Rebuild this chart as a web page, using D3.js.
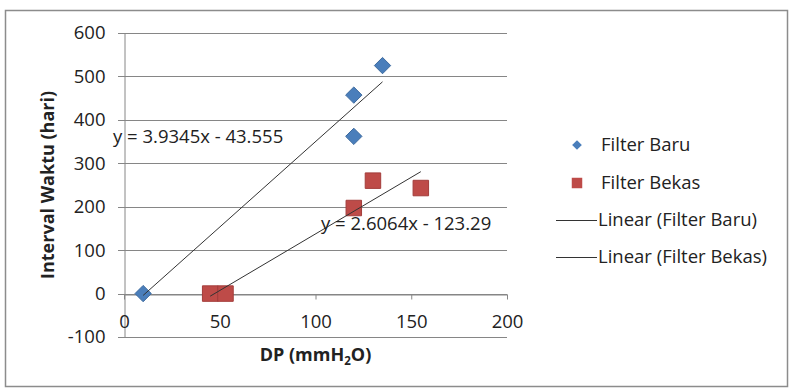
<!DOCTYPE html>
<html>
<head>
<meta charset="utf-8">
<script src="https://cdn.jsdelivr.net/npm/d3@7"></script>
<style>
  html, body { margin: 0; padding: 0; background: #fff; }
  svg { display: block; font-family: "Open Sans", Lato, sans-serif; }
</style>
</head>
<body>
<svg id="chart" width="790" height="389"></svg>
<script>
// Data
const baruX = [10, 120, 120, 135];
const baruY = [0, 457, 362, 525];
const bekasX = [45, 53, 120, 130, 155];
const bekasY = [0, 0, 197, 260, 243];

// trendline coefficients (as printed on the chart)
const baruFit = { slope: 3.9345, intercept: -43.555 };
const bekasFit = { slope: 2.6064, intercept: -123.29 };

const xTicks = [0, 50, 100, 150, 200];
const yTicks = [-100, 0, 100, 200, 300, 400, 500, 600];

const legendLabels = ["Filter Baru", "Filter Bekas", "Linear (Filter Baru)", "Linear (Filter Bekas)"];

const BLUE = "#4a7ebb";
const RED = "#be4b48";
const GRID = "#868686";
const FS = 18.5;
const TFS = 18;

const svg = d3.select("#chart");

// outer chart border
svg.append("rect")
  .attr("x", 5.5).attr("y", 10.5)
  .attr("width", 782).attr("height", 376)
  .attr("fill", "#fff")
  .attr("stroke", "#8c8c8c")
  .attr("stroke-width", 1.5);

const x = d3.scaleLinear().domain([0, 200]).range([124, 507]);
const y = d3.scaleLinear().domain([-100, 600]).range([337, 33]);

// horizontal gridlines (with the small outside tick on the left)
svg.append("g")
  .selectAll("line")
  .data(yTicks)
  .join("line")
  .attr("x1", x(0) - 6)
  .attr("x2", x(200))
  .attr("y1", d => Math.round(y(d)) + 0.5)
  .attr("y2", d => Math.round(y(d)) + 0.5)
  .attr("stroke", GRID)
  .attr("stroke-width", 1);

// y axis
const yAxis = svg.append("g")
  .attr("transform", `translate(${x(0) + 0.5},0)`)
  .call(d3.axisLeft(y).tickValues(yTicks).tickSize(0).tickPadding(19).tickFormat(d => String(d)));
yAxis.select(".domain").attr("stroke", GRID);
yAxis.selectAll("text")
  .attr("font-size", FS)
  .attr("fill", "#222")
  .style("font-family", "'Open Sans', sans-serif");

// x axis on y = 0
const xAxis = svg.append("g")
  .attr("transform", `translate(0,${Math.round(y(0)) + 0.5})`)
  .call(d3.axisBottom(x).tickValues(xTicks).tickSize(5).tickPadding(15).tickSizeOuter(0));
xAxis.select(".domain").attr("stroke", GRID);
xAxis.selectAll(".tick line").attr("stroke", GRID);
xAxis.selectAll("text")
  .attr("font-size", FS)
  .attr("fill", "#222")
  .style("font-family", "'Open Sans', sans-serif");

// axis titles
svg.append("text")
  .attr("transform", `translate(54,185) rotate(-90)`)
  .attr("text-anchor", "middle")
  .attr("font-size", TFS)
  .attr("font-weight", "bold")
  .attr("fill", "#222")
  .text("Interval Waktu (hari)");

const xt = svg.append("text")
  .attr("x", (x(0) + x(200)) / 2)
  .attr("y", 361)
  .attr("text-anchor", "middle")
  .attr("font-size", TFS)
  .attr("font-weight", "bold")
  .attr("fill", "#222");
xt.append("tspan").text("DP (mmH");
xt.append("tspan").attr("font-size", 11.5).attr("dy", 4).text("2");
xt.append("tspan").attr("dy", -4).text("O)");

// trendlines
function trend(xs, fit) {
  const ext = d3.extent(xs);
  return ext.map(v => [x(v), y(fit.slope * v + fit.intercept)]);
}
const lineGen = d3.line();

// markers
const diamond = d3.symbol().type(d3.symbolDiamond2).size(170);
const square = d3.symbol().type(d3.symbolSquare).size(240);

svg.append("g")
  .selectAll("path")
  .data(d3.zip(bekasX, bekasY))
  .join("path")
  .attr("d", square)
  .attr("transform", d => `translate(${x(d[0])},${y(d[1])})`)
  .attr("fill", RED)
  .attr("stroke", "#a33d3b")
  .attr("stroke-width", 1);

svg.append("g")
  .selectAll("path")
  .data(d3.zip(baruX, baruY))
  .join("path")
  .attr("d", diamond)
  .attr("transform", d => `translate(${x(d[0])},${y(d[1])})`)
  .attr("fill", BLUE)
  .attr("stroke", "#3d6a9e")
  .attr("stroke-width", 1);

// trendlines over the markers
svg.append("path")
  .attr("d", lineGen(trend(baruX, baruFit)))
  .attr("stroke", "#333").attr("stroke-width", 1).attr("fill", "none");
svg.append("path")
  .attr("d", lineGen(trend(bekasX, bekasFit)))
  .attr("stroke", "#333").attr("stroke-width", 1).attr("fill", "none");

// equations
svg.append("text")
  .attr("x", 113).attr("y", 137)
  .attr("dy", "0.35em")
  .attr("font-size", FS).attr("fill", "#222")
  .text(`y = ${baruFit.slope}x - ${-baruFit.intercept}`);
svg.append("text")
  .attr("x", 321).attr("y", 224)
  .attr("dy", "0.35em")
  .attr("font-size", FS).attr("fill", "#222")
  .text(`y = ${bekasFit.slope}x - ${-bekasFit.intercept}`);

// legend
const legendY = [145, 183, 220, 257];
const lg = svg.append("g");
lg.append("path")
  .attr("d", d3.symbol().type(d3.symbolDiamond2).size(60))
  .attr("transform", `translate(577,${legendY[0]})`)
  .attr("fill", BLUE);
lg.append("path")
  .attr("d", d3.symbol().type(d3.symbolSquare).size(110))
  .attr("transform", `translate(577,${legendY[1]})`)
  .attr("fill", RED);
[2, 3].forEach(i => {
  lg.append("line")
    .attr("x1", 556).attr("x2", 597)
    .attr("y1", legendY[i] + 0.5).attr("y2", legendY[i] + 0.5)
    .attr("stroke", "#333").attr("stroke-width", 1);
});
lg.selectAll("text")
  .data(legendLabels)
  .join("text")
  .attr("x", (d, i) => i < 2 ? 601 : 598)
  .attr("y", (d, i) => legendY[i])
  .attr("dy", "0.35em")
  .attr("font-size", FS)
  .attr("fill", "#222")
  .text(d => d);
</script>
</body>
</html>
